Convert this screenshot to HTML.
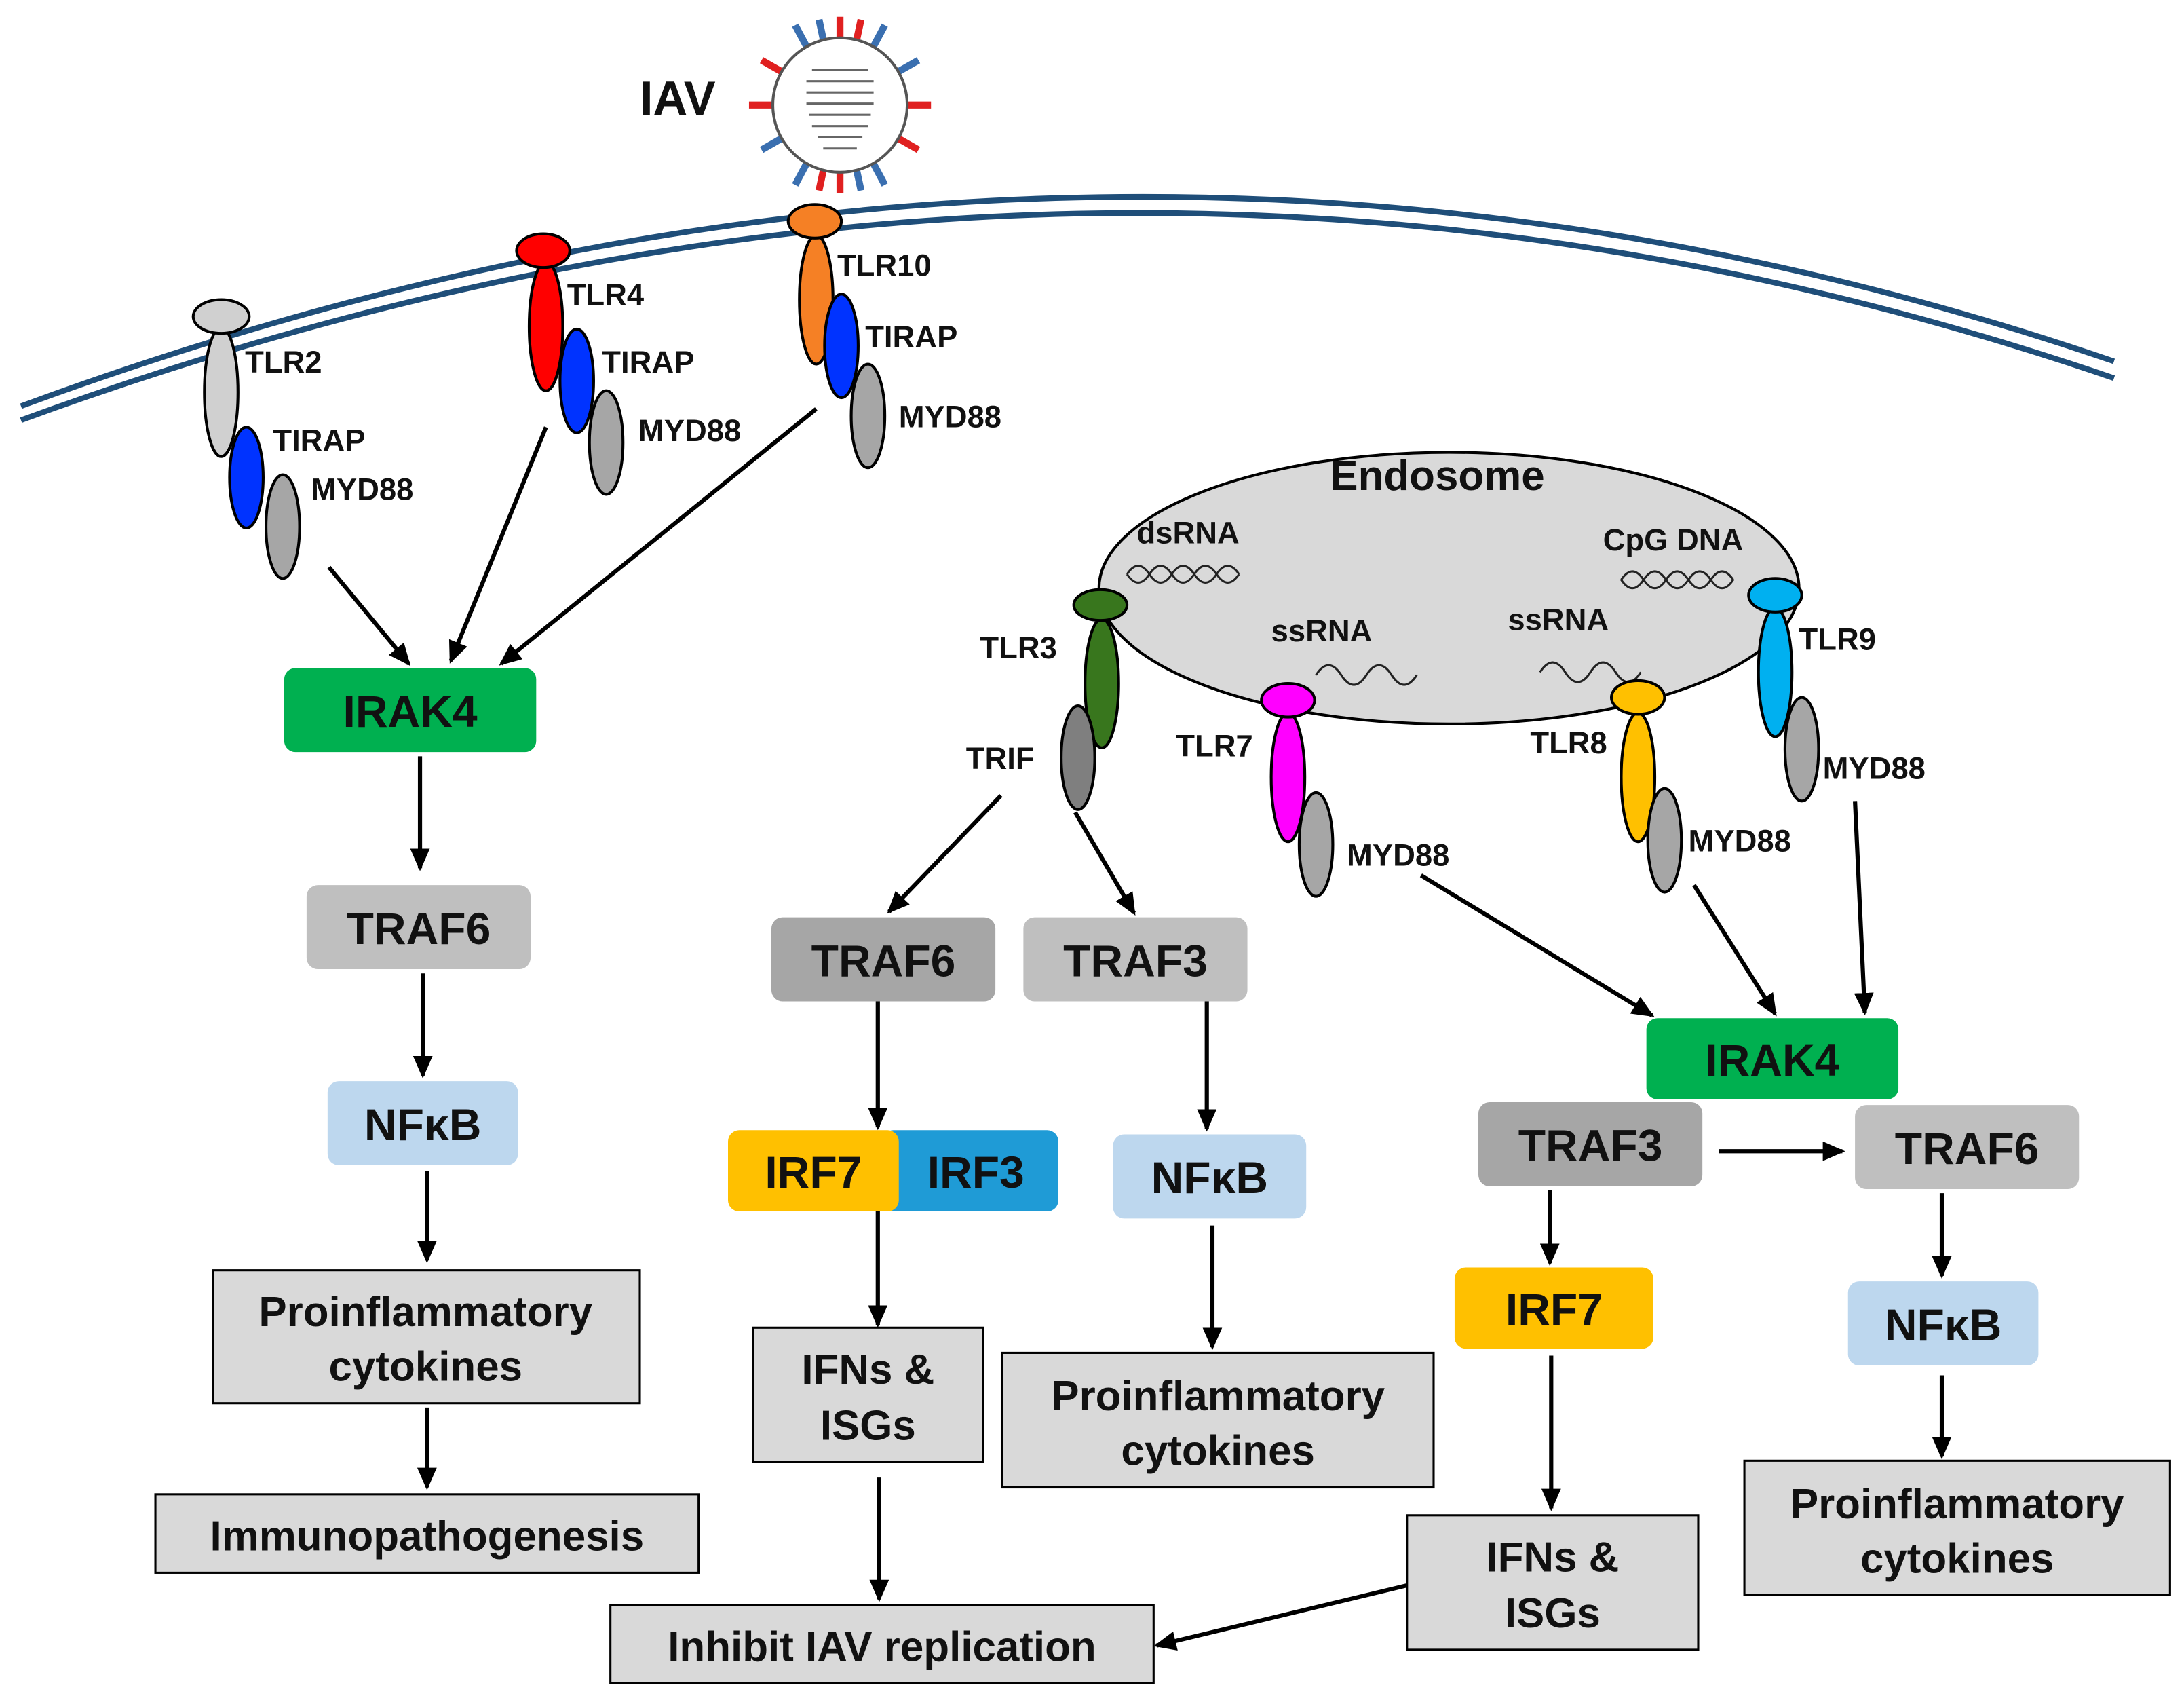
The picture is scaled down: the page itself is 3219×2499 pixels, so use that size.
<!DOCTYPE html>
<html><head><meta charset="utf-8"><style>
html,body{margin:0;padding:0;background:#fff;}
svg{display:block;}
text{font-family:"Liberation Sans",sans-serif;font-weight:bold;fill:#111;}
</style></head><body>
<svg width="3219" height="2499" viewBox="0 0 1560 1211" preserveAspectRatio="none" xmlns="http://www.w3.org/2000/svg">
<defs>
<marker id="a" markerWidth="10" markerHeight="10" refX="8" refY="5" orient="auto" markerUnits="userSpaceOnUse"><path d="M0,0 L10,5 L0,10 z" fill="#000"/></marker>
<marker id="b" markerWidth="16" markerHeight="14" refX="14" refY="7" orient="auto" markerUnits="userSpaceOnUse"><path d="M0,0 L16,7 L0,14 z" fill="#000"/></marker>
</defs>
<!-- membrane -->
<path d="M15,300 Q780,20 1510,270" fill="none" stroke="#1f4e79" stroke-width="4"/>
<path d="M15,290 Q780,8 1510,258" fill="none" stroke="#1f4e79" stroke-width="4"/>
<!-- virus -->
<g stroke-width="5">
<line x1="600" y1="27" x2="600" y2="12" stroke="#e02020"/>
<line x1="600" y1="123" x2="600" y2="138" stroke="#e02020"/>
<line x1="552" y1="75" x2="535" y2="75" stroke="#e02020"/>
<line x1="648" y1="75" x2="665" y2="75" stroke="#e02020"/>
<line x1="576" y1="33" x2="568" y2="18" stroke="#3a6fb0"/>
<line x1="624" y1="33" x2="632" y2="18" stroke="#3a6fb0"/>
<line x1="576" y1="117" x2="568" y2="132" stroke="#3a6fb0"/>
<line x1="624" y1="117" x2="632" y2="132" stroke="#3a6fb0"/>
<line x1="558" y1="51" x2="544" y2="43" stroke="#e02020"/>
<line x1="642" y1="51" x2="656" y2="43" stroke="#3a6fb0"/>
<line x1="558" y1="99" x2="544" y2="107" stroke="#3a6fb0"/>
<line x1="642" y1="99" x2="656" y2="107" stroke="#e02020"/>
<line x1="588" y1="28" x2="585" y2="14" stroke="#3a6fb0"/>
<line x1="612" y1="28" x2="615" y2="14" stroke="#e02020"/>
<line x1="588" y1="122" x2="585" y2="136" stroke="#e02020"/>
<line x1="612" y1="122" x2="615" y2="136" stroke="#3a6fb0"/>
</g>
<circle cx="600" cy="75" r="48" fill="#fff" stroke="#555" stroke-width="2"/>
<g stroke="#666" stroke-width="1.5">
<line x1="580" y1="50" x2="620" y2="50"/><line x1="576" y1="58" x2="624" y2="58"/><line x1="576" y1="66" x2="624" y2="66"/><line x1="576" y1="74" x2="624" y2="74"/><line x1="578" y1="82" x2="622" y2="82"/><line x1="580" y1="90" x2="620" y2="90"/><line x1="584" y1="98" x2="616" y2="98"/><line x1="588" y1="106" x2="612" y2="106"/>
</g>
<text x="457" y="82" font-size="34">IAV</text>

<!-- receptor helper styling -->
<g stroke="#000" stroke-width="2">
<!-- TLR2 -->
<ellipse cx="158" cy="280" rx="12" ry="46" fill="#d0d0d0"/>
<ellipse cx="158" cy="226" rx="20" ry="12" fill="#d0d0d0"/>
<ellipse cx="176" cy="341" rx="12" ry="36" fill="#0033ff"/>
<ellipse cx="202" cy="376" rx="12" ry="37" fill="#a6a6a6"/>
<!-- TLR4 -->
<ellipse cx="390" cy="233" rx="12" ry="46" fill="#ff0000"/>
<ellipse cx="388" cy="179" rx="19" ry="12" fill="#ff0000"/>
<ellipse cx="412" cy="272" rx="12" ry="37" fill="#0033ff"/>
<ellipse cx="433" cy="316" rx="12" ry="37" fill="#a6a6a6"/>
<!-- TLR10 -->
<ellipse cx="583" cy="214" rx="12" ry="46" fill="#f58025"/>
<ellipse cx="582" cy="158" rx="19" ry="12" fill="#f58025"/>
<ellipse cx="601" cy="247" rx="12" ry="37" fill="#0033ff"/>
<ellipse cx="620" cy="297" rx="12" ry="37" fill="#a6a6a6"/>
</g>
<g font-size="22">
<text x="175" y="266">TLR2</text><text x="195" y="322">TIRAP</text><text x="222" y="357">MYD88</text>
<text x="405" y="218">TLR4</text><text x="430" y="266">TIRAP</text><text x="456" y="315">MYD88</text>
<text x="598" y="197">TLR10</text><text x="618" y="248">TIRAP</text><text x="642" y="305">MYD88</text>
</g>
<g stroke="#000" stroke-width="3" fill="none" marker-end="url(#b)">
<line x1="235" y1="405" x2="292" y2="474"/>
<line x1="390" y1="305" x2="322" y2="472"/>
<line x1="583" y1="292" x2="358" y2="474"/>
<line x1="300" y1="540" x2="300" y2="620"/>
<line x1="302" y1="695" x2="302" y2="768"/>
<line x1="305" y1="836" x2="305" y2="900"/>
<line x1="305" y1="1005" x2="305" y2="1062"/>
<line x1="715" y1="568" x2="635" y2="651"/>
<line x1="768" y1="580" x2="810" y2="652"/>
<line x1="627" y1="715" x2="627" y2="805"/>
<line x1="627" y1="865" x2="627" y2="946"/>
<line x1="628" y1="1055" x2="628" y2="1142"/>
<line x1="862" y1="715" x2="862" y2="806"/>
<line x1="866" y1="875" x2="866" y2="962"/>
<line x1="1015" y1="625" x2="1180" y2="725"/>
<line x1="1210" y1="632" x2="1268" y2="724"/>
<line x1="1325" y1="572" x2="1332" y2="723"/>
<line x1="1228" y1="822" x2="1316" y2="822"/>
<line x1="1107" y1="850" x2="1107" y2="902"/>
<line x1="1108" y1="968" x2="1108" y2="1077"/>
<line x1="1005" y1="1132" x2="826" y2="1175"/>
<line x1="1387" y1="852" x2="1387" y2="911"/>
<line x1="1387" y1="982" x2="1387" y2="1040"/>
</g>

<!-- endosome -->
<ellipse cx="1035" cy="420" rx="250" ry="97" fill="#d9d9d9" stroke="#000" stroke-width="2"/>
<text x="950" y="350" font-size="30">Endosome</text>
<g font-size="22"><text x="812" y="388">dsRNA</text><text x="1145" y="393">CpG DNA</text><text x="908" y="458">ssRNA</text><text x="1077" y="450">ssRNA</text></g>
<g fill="none" stroke="#222" stroke-width="1.5">
<path d="M805,410 q8,-12 16,0 t16,0 t16,0 t16,0 t16,0"/><path d="M805,410 q8,12 16,0 t16,0 t16,0 t16,0 t16,0"/>
<path d="M1158,414 q8,-12 16,0 t16,0 t16,0 t16,0 t16,0"/><path d="M1158,414 q8,12 16,0 t16,0 t16,0 t16,0 t16,0"/>
<path d="M940,482 q9,-14 18,0 t18,0 t18,0 t18,0"/>
<path d="M1100,480 q9,-14 18,0 t18,0 t18,0 t18,0"/>
</g>
<g stroke="#000" stroke-width="2">
<ellipse cx="787" cy="488" rx="12" ry="46" fill="#38761d"/>
<ellipse cx="786" cy="432" rx="19" ry="11" fill="#38761d"/>
<ellipse cx="770" cy="541" rx="12" ry="37" fill="#7f7f7f"/>
<ellipse cx="920" cy="555" rx="12" ry="46" fill="#ff00ff"/>
<ellipse cx="920" cy="500" rx="19" ry="12" fill="#ff00ff"/>
<ellipse cx="940" cy="603" rx="12" ry="37" fill="#a6a6a6"/>
<ellipse cx="1170" cy="555" rx="12" ry="46" fill="#ffc000"/>
<ellipse cx="1170" cy="498" rx="19" ry="12" fill="#ffc000"/>
<ellipse cx="1189" cy="600" rx="12" ry="37" fill="#a6a6a6"/>
<ellipse cx="1268" cy="480" rx="12" ry="46" fill="#00b0f0"/>
<ellipse cx="1268" cy="425" rx="19" ry="12" fill="#00b0f0"/>
<ellipse cx="1287" cy="535" rx="12" ry="37" fill="#a6a6a6"/>
</g>
<g font-size="22">
<text x="700" y="470">TLR3</text><text x="690" y="549">TRIF</text>
<text x="840" y="540">TLR7</text><text x="962" y="618">MYD88</text>
<text x="1093" y="538">TLR8</text><text x="1206" y="608">MYD88</text>
<text x="1285" y="464">TLR9</text><text x="1302" y="556">MYD88</text>
</g>

<!-- boxes -->
<g font-size="32" text-anchor="middle">
<rect x="203" y="477" width="180" height="60" rx="8" fill="#00b050"/><text x="293" y="519">IRAK4</text>
<rect x="219" y="632" width="160" height="60" rx="8" fill="#bfbfbf"/><text x="299" y="674">TRAF6</text>
<rect x="234" y="772" width="136" height="60" rx="8" fill="#bdd7ee"/><text x="302" y="814">NFκB</text>
<rect x="551" y="655" width="160" height="60" rx="8" fill="#a6a6a6"/><text x="631" y="697">TRAF6</text>
<rect x="731" y="655" width="160" height="60" rx="8" fill="#bfbfbf"/><text x="811" y="697">TRAF3</text>
<rect x="630" y="807" width="126" height="58" rx="8" fill="#1f9bd6"/><text x="697" y="848">IRF3</text>
<rect x="520" y="807" width="122" height="58" rx="8" fill="#ffc000"/><text x="581" y="848">IRF7</text>
<rect x="795" y="810" width="138" height="60" rx="8" fill="#bdd7ee"/><text x="864" y="852">NFκB</text>
<rect x="1176" y="727" width="180" height="58" rx="8" fill="#00b050"/><text x="1266" y="768">IRAK4</text>
<rect x="1056" y="787" width="160" height="60" rx="8" fill="#a6a6a6"/><text x="1136" y="829">TRAF3</text>
<rect x="1325" y="789" width="160" height="60" rx="8" fill="#bfbfbf"/><text x="1405" y="831">TRAF6</text>
<rect x="1039" y="905" width="142" height="58" rx="8" fill="#ffc000"/><text x="1110" y="946">IRF7</text>
<rect x="1320" y="915" width="136" height="60" rx="8" fill="#bdd7ee"/><text x="1388" y="957">NFκB</text>
</g>
<g font-size="30" text-anchor="middle">
<rect x="152" y="907" width="305" height="95" fill="#d9d9d9" stroke="#000" stroke-width="1.5"/>
<text x="304" y="947">Proinflammatory</text><text x="304" y="986">cytokines</text>
<rect x="111" y="1067" width="388" height="56" fill="#d9d9d9" stroke="#000" stroke-width="1.5"/>
<text x="305" y="1107">Immunopathogenesis</text>
<rect x="538" y="948" width="164" height="96" fill="#d9d9d9" stroke="#000" stroke-width="1.5"/>
<text x="620" y="988">IFNs &amp;</text><text x="620" y="1028">ISGs</text>
<rect x="436" y="1146" width="388" height="56" fill="#d9d9d9" stroke="#000" stroke-width="1.5"/>
<text x="630" y="1186">Inhibit IAV replication</text>
<rect x="716" y="966" width="308" height="96" fill="#d9d9d9" stroke="#000" stroke-width="1.5"/>
<text x="870" y="1007">Proinflammatory</text><text x="870" y="1046">cytokines</text>
<rect x="1005" y="1082" width="208" height="96" fill="#d9d9d9" stroke="#000" stroke-width="1.5"/>
<text x="1109" y="1122">IFNs &amp;</text><text x="1109" y="1162">ISGs</text>
<rect x="1246" y="1043" width="304" height="96" fill="#d9d9d9" stroke="#000" stroke-width="1.5"/>
<text x="1398" y="1084">Proinflammatory</text><text x="1398" y="1123">cytokines</text>
</g>
</svg>
</body></html>
